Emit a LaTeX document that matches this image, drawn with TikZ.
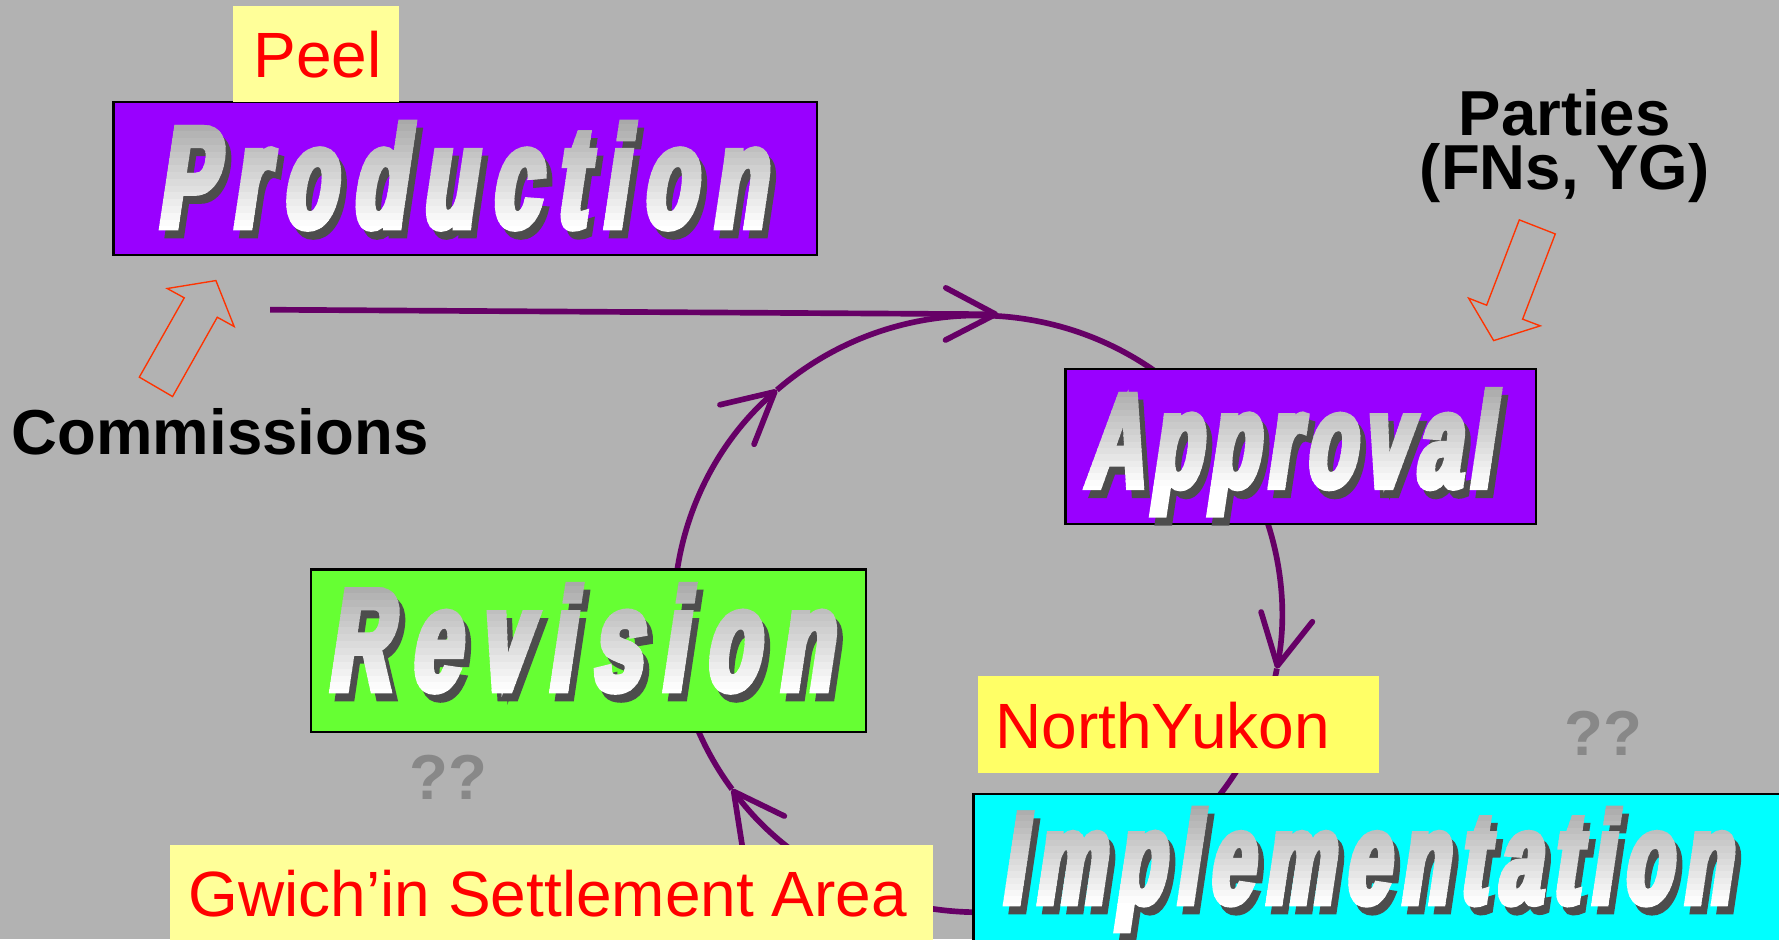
\documentclass[tikz,border=0pt]{standalone}
\usepackage{fontspec}
\setmainfont{Liberation Sans}
\usetikzlibrary{arrows.meta,fit}
\newfontfamily\waProd[FakeStretch=0.6,FakeSlant=0.15,FakeBold=5,LetterSpace=12]{Liberation Sans Bold}
\newfontfamily\waAppr[FakeStretch=0.6,FakeSlant=0.15,FakeBold=5,LetterSpace=6.3]{Liberation Sans Bold}
\newfontfamily\waRev[FakeStretch=0.6,FakeSlant=0.15,FakeBold=5,LetterSpace=14.2]{Liberation Sans Bold}
\newfontfamily\waImpl[FakeStretch=0.6,FakeSlant=0.15,FakeBold=5,LetterSpace=9]{Liberation Sans Bold}
\definecolor{bggray}{RGB}{178,178,178}
\definecolor{prodviolet}{RGB}{153,0,255}
\definecolor{revgreen}{RGB}{102,255,51}
\definecolor{implcyan}{RGB}{0,255,255}
\definecolor{ypale}{RGB}{255,255,153}
\definecolor{ybright}{RGB}{255,255,102}
\definecolor{connpurple}{RGB}{102,0,102}
\definecolor{blockred}{RGB}{255,51,0}
\definecolor{qgray}{RGB}{136,136,136}
\definecolor{wshadow}{RGB}{77,77,77}
\definecolor{wtop}{RGB}{166,166,166}
\tikzset{
  conn/.style={draw=connpurple, line width=2.5pt},
  tipped/.style={-{Straight Barb[length=22pt,width=23pt,round]}},
  box/.style={draw=black, line width=1pt, inner sep=0pt},
  lbox/.style={draw=none, inner sep=0pt},
  blockarrow/.style={draw=blockred, line width=0.6pt, line join=miter},
  wa/.style={anchor=base west, inner sep=0pt},
  lbl/.style={inner sep=0pt, text=red, font=\fontsize{28.2}{30}\selectfont},
  blk/.style={inner sep=0pt, text=black, font=\bfseries\fontsize{28}{30}\selectfont},
  qq/.style={inner sep=0pt, text=qgray, font=\bfseries\fontsize{28}{30}\selectfont},
}
% #1 name, #2 font, #3 x, #4 baseline y, #5 cap-top y, #6 text
\newcommand\waword[6]{%
  \node[wa, font=#2, text=wshadow] (#1-sh) at (#3+5,-#4-7) {#6};
  \begin{scope}
    \clip (#3-30,-#5+40) rectangle (#3+800,-#5+5.2);
    \node[wa, font=#2, text=wtop] (#1-top) at (#3,-#4) {#6};
  \end{scope}
  \foreach \k in {0,...,15}{%
    \pgfmathsetmacro\yA{#5-6+\k*(#4-#5+6)/16}%
    \pgfmathsetmacro\yB{#5-6+(\k+1)*(#4-#5+6)/16+0.8}%
    \pgfmathsetmacro\pct{(\k+0.5)*100/16}%
    \begin{scope}
      \clip (#3-30,-\yA) rectangle (#3+800,-\yB);
      \node[wa, font=#2, text=white!\pct!wtop] (#1-\k) at (#3,-#4) {#6};
    \end{scope}
  }
  \begin{scope}
    \clip (#3-30,-#4) rectangle (#3+800,-#4-60);
    \node[wa, font=#2, text=white] (#1) at (#3,-#4) {#6};
  \end{scope}
}
\begin{document}
\begin{tikzpicture}[x=0.5pt,y=0.5pt]
\useasboundingbox (0,0) rectangle (1568,-828);
\begin{scope}
\clip (0,0) rectangle (1568,-828);
\fill[bggray] (0,0) rectangle (1568,-828);
% cycle connectors
\coordinate (C) at (862,-541);
\coordinate (hs) at (238,-273);
\coordinate (top) at (880,-277);
\draw[conn,tipped] (hs) -- (top);
\draw[conn,tipped] ([shift={(175:268 and 263)}]C) arc[start angle=175,end angle=131.4,x radius=268,y radius=263];
\draw[conn] ([shift={(131.4:268 and 263)}]C) arc[start angle=131.4,end angle=52,x radius=268,y radius=263];
\draw[conn,tipped] ([shift={(20:268 and 263)}]C) arc[start angle=20,end angle=-10.6,x radius=268,y radius=263];
\draw[conn,tipped] ([shift={(-10.6:268 and 263)}]C) arc[start angle=-10.6,end angle=-144,x radius=268,y radius=263];
\draw[conn] ([shift={(-144:268 and 263)}]C) arc[start angle=-144,end angle=-165,x radius=268,y radius=263];
% block arrows
\draw[blockarrow] (122.8,-332.4) -- (152.1,-349.5) -- (191.5,-279.6) -- (206.4,-287.8) -- (190.3,-247.3) -- (147.4,-254.3) -- (162.4,-262.5) -- cycle;
\draw[blockarrow] (1339.1,-193.8) -- (1370.8,-206.2) -- (1342.0,-281.3) -- (1357.6,-287.2) -- (1316.5,-300.2) -- (1294.4,-262.8) -- (1310.3,-269.0) -- cycle;
% boxes
\node[box, fill=prodviolet, fit={(100,-90)(720,-225)}] (prod) {};
\node[box, fill=prodviolet, fit={(939,-325)(1354,-462)}] (appr) {};
\node[box, fill=revgreen, fit={(274,-502)(763,-645)}] (rev) {};
\node[box, fill=implcyan, fit={(858,-700)(1620,-880)}] (impl) {};
\node[lbox, fill=ypale, fit={(205,-5)(352,-90)}] (peelbox) {};
\node[lbox, fill=ybright, fit={(862,-596)(1215,-681)}] (nyukbox) {};
\node[lbox, fill=ypale, fit={(150,-745)(822,-860)}] (gwichbox) {};
% word art titles
\waword{prodw}{\waProd\fontsize{63}{70}\selectfont}{138}{200}{110}{Production}
\waword{apprw}{\waAppr\fontsize{58.7}{66}\selectfont}{956}{429}{345}{Approval}
\waword{revw}{\waRev\fontsize{63.5}{70}\selectfont}{288}{608}{517}{Revision}
\waword{implw}{\waImpl\fontsize{57.3}{64}\selectfont}{882}{796}{714}{Implementation}
% labels
\node[lbl, anchor=base] (peel) at (280,-68) {Peel};
\node[lbl, anchor=base west] (nyuk) at (877,-660) {NorthYukon};
\node[lbl, anchor=base west] (gwich) at (166,-808) {Gwich’in Settlement Area};
\node[blk, anchor=base west] (comm) at (10,-401) {Commissions};
\node[blk, anchor=base] (part1) at (1379,-119) {Parties};
\node[blk, anchor=base] (part2) at (1379,-167) {(FNs, YG)};
\node[qq, anchor=base] (q1) at (395,-705) {??};
\node[qq, anchor=base] (q2) at (1413,-666) {??};
\end{scope}
\end{tikzpicture}
\end{document}
